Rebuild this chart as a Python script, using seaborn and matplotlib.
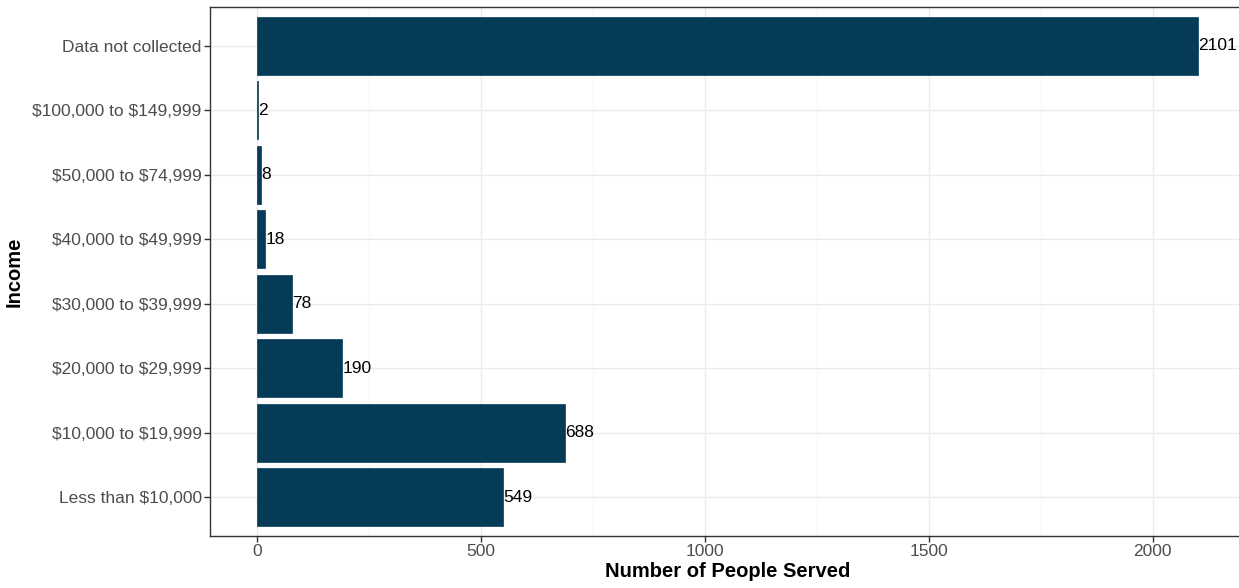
import numpy as np
import pandas as pd
import matplotlib
matplotlib.use("Agg")
import matplotlib.pyplot as plt
import seaborn as sns
from matplotlib.ticker import MultipleLocator

# categories listed top to bottom
income = ["Data not collected", "$100,000 to $149,999", "$50,000 to $74,999",
          "$40,000 to $49,999", "$30,000 to $39,999", "$20,000 to $29,999",
          "$10,000 to $19,999", "Less than $10,000"]
served = [2101, 2, 8, 18, 78, 190, 688, 549]

df = pd.DataFrame({"Income": income, "Served": served})

sns.set_theme(style="whitegrid")
plt.rcParams["font.family"] = ["Liberation Sans", "DejaVu Sans"]
plt.rcParams["text.parse_math"] = False

fig = plt.figure(figsize=(12.39, 5.88), dpi=100)
W, H = 1239, 588
ax = fig.add_axes([210 / W, 52 / H, (1245 - 210) / W, (536 - 7) / H])

sns.barplot(data=df, y="Income", x="Served", order=income, orient="h",
            color="#053b56", saturation=1, width=0.9, ax=ax, zorder=3,
            edgecolor="#053b56", linewidth=0.5)

# value labels at the end of each bar
for i, v in enumerate(served):
    ax.text(v + 1, i, str(v), va="center", ha="left", fontsize=12.5,
            color="black", zorder=4)

ax.set_xlim(-105, 2206)
ax.set_ylim(7.6, -0.6)
ax.xaxis.set_major_locator(MultipleLocator(500))
ax.xaxis.set_minor_locator(MultipleLocator(250))
ax.grid(True, which="major", color="#ebebeb", linewidth=1.0, zorder=0)
ax.grid(True, which="minor", axis="x", color="#f4f4f4", linewidth=0.6, zorder=0)
ax.set_axisbelow(True)

ax.set_xlabel("Number of People Served", fontsize=14.5, fontweight="bold",
              color="black", labelpad=2)
ax.set_ylabel("Income", fontsize=14.5, fontweight="bold", color="black",
              labelpad=6)
ax.tick_params(axis="both", which="major", labelsize=12.5, labelcolor="#4d4d4d",
               color="#333333", length=4, width=1, direction="out",
               bottom=True, left=True, pad=2)
ax.tick_params(axis="x", which="minor", bottom=False)

for side, sp in ax.spines.items():
    sp.set_visible(True)
    sp.set_color("#333333")
    sp.set_linewidth(1.0)

fig.savefig("out.png", dpi=100, facecolor="white")
